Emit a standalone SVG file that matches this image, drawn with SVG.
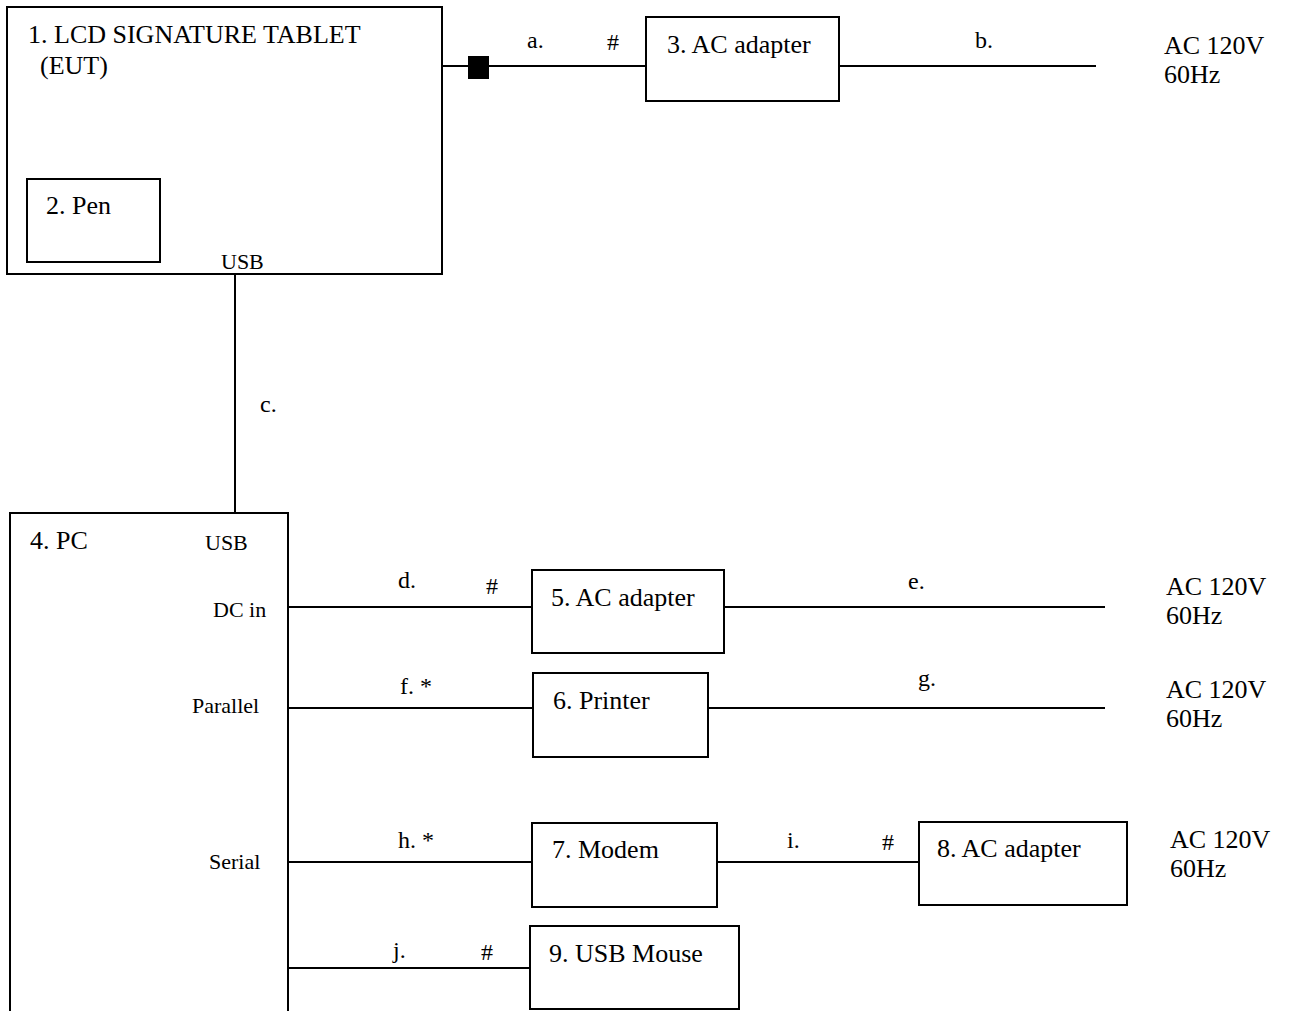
<svg xmlns="http://www.w3.org/2000/svg" width="1290" height="1011" viewBox="0 0 1290 1011">
<style>
.box{fill:#fff;stroke:#000;stroke-width:2}
.ln{stroke:#000;stroke-width:2;fill:none}
text{font-family:"Liberation Serif","Times New Roman",serif;fill:#000}
.t{font-size:26px}
.p{font-size:22px}
.c{font-size:24px}
</style>
<rect width="1290" height="1011" fill="#fff"/>
<g id="connectors">
<line class="ln" x1="442" y1="66" x2="646" y2="66"/>
<rect x="468" y="56" width="21" height="23" fill="#000"/>
<line class="ln" x1="839" y1="66" x2="1096" y2="66"/>
<line class="ln" x1="235" y1="274" x2="235" y2="513"/>
<line class="ln" x1="288" y1="607" x2="532" y2="607"/>
<line class="ln" x1="724" y1="607" x2="1105" y2="607"/>
<line class="ln" x1="288" y1="708" x2="533" y2="708"/>
<line class="ln" x1="708" y1="708" x2="1105" y2="708"/>
<line class="ln" x1="288" y1="862" x2="532" y2="862"/>
<line class="ln" x1="717" y1="862" x2="919" y2="862"/>
<line class="ln" x1="288" y1="968" x2="532" y2="968"/>
<text class="c" x="527" y="48">a.</text>
<text class="c" x="607" y="50">#</text>
<text class="c" x="975" y="48">b.</text>
<text class="c" x="260" y="412">c.</text>
<text class="c" x="398" y="588">d.</text>
<text class="c" x="486" y="594">#</text>
<text class="c" x="908" y="589">e.</text>
<text class="c" x="400" y="694">f. *</text>
<text class="c" x="918" y="686">g.</text>
<text class="c" x="398" y="848">h. *</text>
<text class="c" x="787" y="848">i.</text>
<text class="c" x="882" y="850">#</text>
<text class="c" x="393" y="958">j.</text>
<text class="c" x="481" y="960">#</text>
<text class="t" x="1164" y="54">AC 120V</text>
<text class="t" x="1164" y="83">60Hz</text>
<text class="t" x="1166" y="595">AC 120V</text>
<text class="t" x="1166" y="624">60Hz</text>
<text class="t" x="1166" y="698">AC 120V</text>
<text class="t" x="1166" y="727">60Hz</text>
<text class="t" x="1170" y="848">AC 120V</text>
<text class="t" x="1170" y="877">60Hz</text>
</g>
<g id="n1">
<rect class="box" x="7" y="7" width="435" height="267"/>
<text class="t" x="28" y="43">1. LCD SIGNATURE TABLET</text>
<text class="t" x="40" y="74">(EUT)</text>
<text class="p" x="221" y="269">USB</text>
</g>
<g id="n2">
<rect class="box" x="27" y="179" width="133" height="83"/>
<text class="t" x="46" y="214">2. Pen</text>
</g>
<g id="n3">
<rect class="box" x="646" y="17" width="193" height="84"/>
<text class="t" x="667" y="53">3. AC adapter</text>
</g>
<g id="n4">
<path class="ln" d="M10 1012 V513 H288 V1012"/>
<text class="t" x="30" y="549">4. PC</text>
<text class="p" x="205" y="550">USB</text>
<text class="p" x="213" y="617">DC in</text>
<text class="p" x="192" y="713">Parallel</text>
<text class="p" x="209" y="869">Serial</text>
</g>
<g id="n5">
<rect class="box" x="532" y="570" width="192" height="83"/>
<text class="t" x="551" y="606">5. AC adapter</text>
</g>
<g id="n6">
<rect class="box" x="533" y="673" width="175" height="84"/>
<text class="t" x="553" y="709">6. Printer</text>
</g>
<g id="n7">
<rect class="box" x="532" y="823" width="185" height="84"/>
<text class="t" x="552" y="858">7. Modem</text>
</g>
<g id="n8">
<rect class="box" x="919" y="822" width="208" height="83"/>
<text class="t" x="937" y="857">8. AC adapter</text>
</g>
<g id="n9">
<rect class="box" x="530" y="926" width="209" height="83"/>
<text class="t" x="549" y="962">9. USB Mouse</text>
</g>
</svg>
